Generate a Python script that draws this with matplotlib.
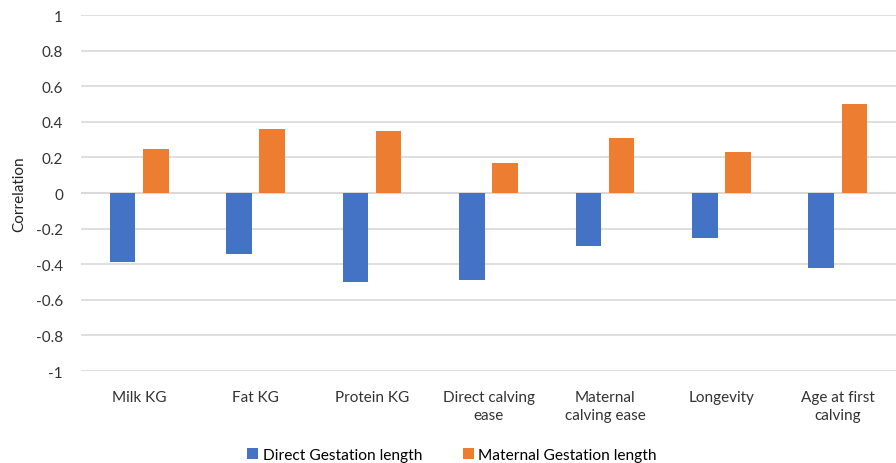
import numpy as np
import matplotlib.pyplot as plt

plt.rcParams['font.family'] = ['Lato', 'DejaVu Sans']

traits = ["Milk KG", "Fat KG", "Protein KG", "Direct calving\nease",
          "Maternal\ncalving ease", "Longevity", "Age at first\ncalving"]
direct_gl = [-0.39, -0.34, -0.50, -0.49, -0.30, -0.25, -0.42]
maternal_gl = [0.25, 0.36, 0.35, 0.17, 0.31, 0.23, 0.50]
y_ticks = [1, 0.8, 0.6, 0.4, 0.2, 0, -0.2, -0.4, -0.6, -0.8, -1]

fig = plt.figure(figsize=(8.96, 4.64), dpi=100)
ax = fig.add_axes([81 / 896, 1 - 372 / 464, 815 / 896, 356 / 464])

x = np.arange(len(traits))
w = 0.22
ax.bar(x - 0.142, direct_gl, w, color="#4472C4", label="Direct Gestation length", zorder=3)
ax.bar(x + 0.142, maternal_gl, w, color="#ED7D31", label="Maternal Gestation length", zorder=3)

ax.set_xlim(-0.5, len(traits) - 0.5)
ax.set_ylim(-1, 1)
ax.set_yticks(y_ticks)
ax.set_yticklabels([f"{t:g}" for t in y_ticks])
ax.yaxis.grid(True, color="#d9d9d9", linewidth=1.2, zorder=0)
ax.axhline(0, color="#d9d9d9", linewidth=1.5, zorder=2)
ax.set_xticks(x)
ax.set_xticklabels(traits, linespacing=1.3, va="top")
ax.tick_params(axis="both", length=0, labelsize=11, colors="#333333")
ax.tick_params(axis="x", pad=14)
ax.tick_params(axis="y", pad=13)
for s in ax.spines.values():
    s.set_visible(False)
ax.set_ylabel("Correlation", fontsize=11, color="#222222", labelpad=7)

h, l = ax.get_legend_handles_labels()
fig.legend(h, l, loc="center", bbox_to_anchor=(452 / 896, 8 / 464), ncol=2, frameon=False,
           fontsize=11.2, handlelength=0.7, handleheight=0.7, handletextpad=0.3,
           columnspacing=2.6, borderpad=0)

fig.savefig("out.png", dpi=100)
